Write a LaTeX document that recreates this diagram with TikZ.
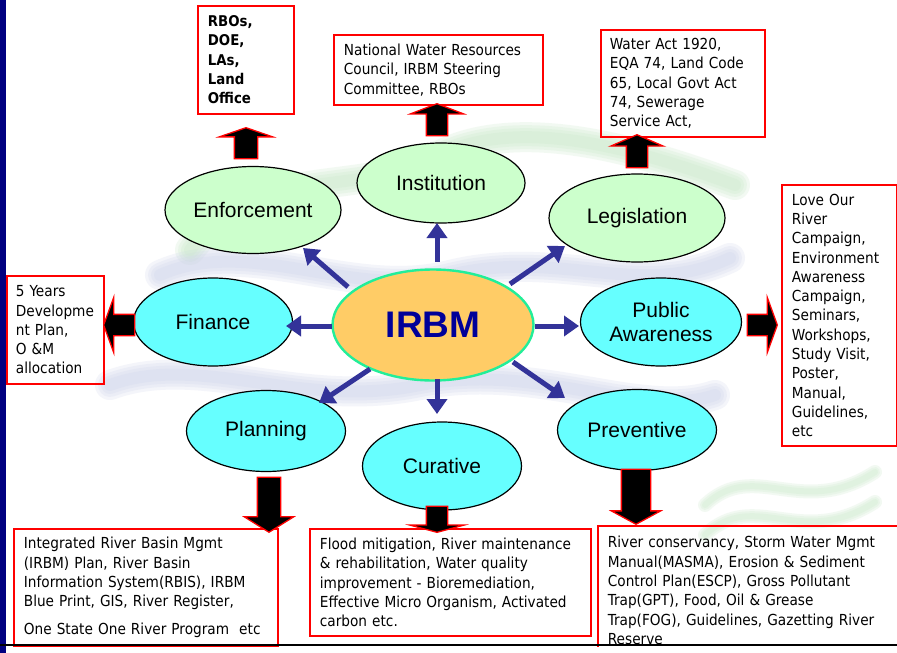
\documentclass[tikz,border=0pt]{standalone}
\usepackage{fontspec}
\setmainfont{Liberation Sans}
\newfontfamily\boxfont{DejaVu Sans Condensed}
\usetikzlibrary{shapes.geometric,shapes.arrows,arrows.meta}

\definecolor{leafgreen}{HTML}{CCFFCC}
\definecolor{aqua}{HTML}{66FFFF}
\definecolor{hubfill}{HTML}{FFCC66}
\definecolor{hubline}{HTML}{22EE99}
\definecolor{hubtext}{HTML}{000099}
\definecolor{spokeblue}{HTML}{333399}
\definecolor{barnavy}{HTML}{000080}
\definecolor{boxred}{HTML}{FF0000}
\definecolor{wavegreen}{RGB}{200,232,200}
\definecolor{wavelilac}{RGB}{205,210,235}

\tikzset{
  leaf/.style={ellipse, draw=black, line width=1.2pt, inner sep=0pt,
    font=\fontsize{21pt}{24pt}\selectfont},
  greenleaf/.style={leaf, fill=leafgreen},
  cyanleaf/.style={leaf, fill=aqua},
  hub/.style={ellipse, draw=hubline, line width=2.4pt, fill=hubfill, inner sep=0pt,
    text=hubtext, font=\bfseries\fontsize{37pt}{40pt}\selectfont},
  infobox/.style={draw=boxred, line width=1.8pt, anchor=north west, align=left,
    inner xsep=10pt, inner ysep=0pt,
    font=\boxfont\fontsize{15.2pt}{19.3pt}\selectfont},
  blockarrow/.style={single arrow, draw=boxred, fill=black, line width=1.3pt,
    inner xsep=0pt, anchor=tip},
  spoke/.style={draw=spokeblue, line width=5pt,
    -{Triangle[length=15pt,width=20pt]}},
  wave/.style={line width=#1, line cap=round, draw opacity=0.22},
}

\begin{document}
\begin{tikzpicture}[x=1pt,y=-1pt]
\useasboundingbox (0,0) rectangle (897,653);
\fill[white] (0,0) rectangle (897,653);

% faint water-wave watermark, soft-edged by stacking translucent strokes
\foreach \w in {30,24,18,12} {
  \draw[wave=\w pt, wavegreen] (190,250) .. controls (260,160) and (360,200) .. (440,155)
    .. controls (520,115) and (640,150) .. (735,185);
  \draw[wave=\w pt, wavelilac] (160,275) .. controls (250,235) and (350,300) .. (450,275)
    .. controls (560,248) and (640,300) .. (730,258);
  \draw[wave=\w pt, wavelilac] (110,385) .. controls (200,352) and (300,410) .. (420,385)
    .. controls (540,362) and (640,420) .. (715,395);
}
\foreach \w in {14,10,6} {
  \draw[wave=\w pt, wavegreen] (705,505) .. controls (755,458) and (800,520) .. (875,472);
  \draw[wave=\w pt, wavegreen] (705,535) .. controls (755,488) and (800,550) .. (875,502);
}

% left edge bar
\fill[barnavy] (0,0) rectangle (6,653);

% outer ellipses
\node[greenleaf, minimum width=176pt, minimum height=87pt] (enf) at (253,210) {Enforcement};
\node[greenleaf, minimum width=168pt, minimum height=80pt] (inst) at (441,183) {Institution};
\node[greenleaf, minimum width=176pt, minimum height=88pt] (leg) at (637,218) {Legislation};
\node[cyanleaf, minimum width=159pt, minimum height=88pt] (fin) at (213,322) {Finance};
\node[cyanleaf, minimum width=161pt, minimum height=88pt, align=center] (pub) at (661,322) {Public\\Awareness};
\node[cyanleaf, minimum width=159pt, minimum height=81pt] (plan) at (266,431) {Planning};
\node[cyanleaf, minimum width=159pt, minimum height=88pt] (cur) at (442,466) {Curative};
\node[cyanleaf, minimum width=159pt, minimum height=81pt] (prev) at (637,430) {Preventive};

% central hub
\node[hub, minimum width=201pt, minimum height=111pt] (irbm) at (433,325) {IRBM};

% spoke end points
\coordinate (s1a) at (437,262); \coordinate (s1b) at (437,223);
\coordinate (s2a) at (348,287); \coordinate (s2b) at (303,248);
\coordinate (s3a) at (332,326); \coordinate (s3b) at (286,326);
\coordinate (s4a) at (510,284); \coordinate (s4b) at (565,246);
\coordinate (s5a) at (535,326); \coordinate (s5b) at (579,326);
\coordinate (s6a) at (513,362); \coordinate (s6b) at (565,398);
\coordinate (s7a) at (437,379); \coordinate (s7b) at (437,414);
\coordinate (s8a) at (370,369); \coordinate (s8b) at (319,403);
\draw[spoke] (s1a) -- (s1b);
\draw[spoke] (s2a) -- (s2b);
\draw[spoke] (s3a) -- (s3b);
\draw[spoke] (s4a) -- (s4b);
\draw[spoke] (s5a) -- (s5b);
\draw[spoke] (s6a) -- (s6b);
\draw[spoke] (s7a) -- (s7b);
\draw[spoke] (s8a) -- (s8b);

% detail boxes
\node[infobox, text width=76pt, minimum height=108pt,
  font=\boxfont\bfseries\fontsize{14.8pt}{19.3pt}\selectfont] (rbo) at (197,5)
  {RBOs,\\DOE,\\LAs,\\Land\\Office};
\node[infobox, text width=189pt, minimum height=70pt] (council) at (333,34)
  {National Water Resources\\Council, IRBM Steering\\Committee, RBOs};
\node[infobox, inner xsep=9pt, text width=146pt, minimum height=107pt] (acts) at (600,29)
  {Water Act 1920,\\EQA 74, Land Code\\65, Local Govt Act\\74, Sewerage\\Service Act,};
\node[infobox, text width=95pt, minimum height=261pt] (campaign) at (781,184)
  {Love Our\\River\\Campaign,\\Environment\\Awareness\\Campaign,\\Seminars,\\Workshops,\\Study Visit,\\Poster,\\Manual,\\Guidelines,\\etc};
\node[infobox, inner xsep=9pt, text width=79pt, minimum height=108pt] (budget) at (6,275)
  {5 Years\\Developme\\nt Plan,\\O \&M\\allocation};
\node[infobox, text width=244pt, minimum height=117pt] (planbox) at (13,528)
  {Integrated River Basin Mgmt\\(IRBM) Plan, River Basin\\Information System(RBIS), IRBM\\Blue Print, GIS, River Register,\\[8pt]One State One River Program\ \ etc};
\node[infobox, text width=261pt, minimum height=107pt] (curebox) at (309,528)
  {Flood mitigation, River maintenance\\\& rehabilitation, Water quality\\improvement - Bioremediation,\\Effective Micro Organism, Activated\\carbon etc.};
\node[infobox, text width=290pt, minimum height=129pt] (prevbox) at (597,525)
  {River conservancy, Storm Water Mgmt\\Manual(MASMA), Erosion \& Sediment\\Control Plan(ESCP), Gross Pollutant\\Trap(GPT), Food, Oil \& Grease\\Trap(FOG), Guidelines, Gazetting River\\Reserve};

% block arrows from each ellipse to its box
\node[blockarrow, rotate=90, minimum height=31pt, inner ysep=11pt,
  single arrow head extend=15pt, single arrow tip angle=142] (enfout) at (246,127) {};
\node[blockarrow, rotate=90, minimum height=32pt, inner ysep=10pt,
  single arrow head extend=16pt, single arrow tip angle=138] (instout) at (437,103) {};
\node[blockarrow, rotate=90, minimum height=33pt, inner ysep=10pt,
  single arrow head extend=15.5pt, single arrow tip angle=133] (legout) at (637,134) {};
\node[blockarrow, rotate=180, minimum height=31pt, inner ysep=10pt,
  single arrow head extend=17pt, single arrow tip angle=140] (finout) at (103,325) {};
\node[blockarrow, minimum height=30pt, inner ysep=10pt,
  single arrow head extend=17pt, single arrow tip angle=140] (pubout) at (778,325) {};
\node[blockarrow, rotate=-90, minimum height=55pt, inner ysep=11pt,
  single arrow head extend=13pt, single arrow tip angle=116] (planout) at (269,533) {};
\node[blockarrow, rotate=-90, minimum height=26pt, inner ysep=10pt,
  single arrow head extend=16.5pt, single arrow tip angle=150] (curout) at (437,533) {};
\node[blockarrow, rotate=-90, minimum height=55pt, inner ysep=14pt,
  single arrow head extend=10pt, single arrow tip angle=123] (prevout) at (636,525) {};

% bottom rule
\fill[white] (0,646.5) rectangle (897,653);
\draw[line width=2.5pt] (0,645) -- (897,645);
\fill[barnavy] (0,646.5) rectangle (6,653);
\end{tikzpicture}
\end{document}
